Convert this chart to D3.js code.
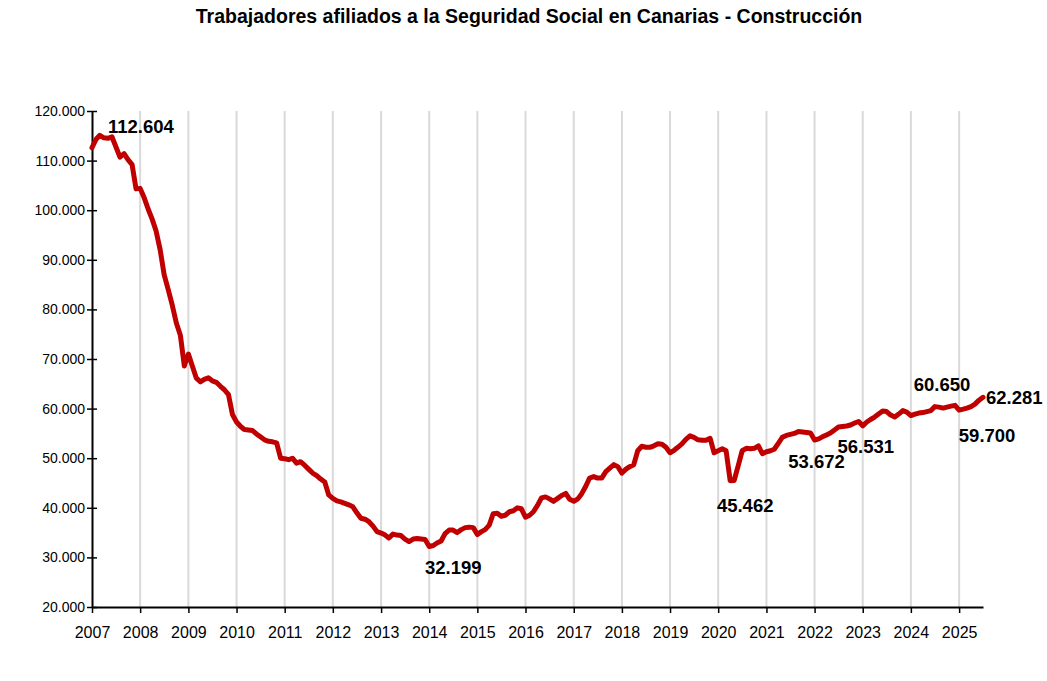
<!DOCTYPE html>
<html>
<head>
<meta charset="utf-8">
<script src="https://cdn.jsdelivr.net/npm/d3@7"></script>
<style>
  body { margin: 0; background: #fff; }
  svg { font-family: "Liberation Sans", Arial, sans-serif; }
  .title { font-size: 19.5px; font-weight: bold; }
  .tick text { fill: #000; }
  .lbl { font-size: 18.5px; font-weight: bold; fill: #000; }
</style>
</head>
<body>
<script>
var width = 1047,
    height = 681;

var title = "Trabajadores afiliados a la Seguridad Social en Canarias - Construcción";

// monthly series, Jan 2007 .. Jul 2025
var startYear = 2007;
var afiliados = [
  // 2007
  112604, 114300, 115100, 114600, 114500, 114800, 112800, 110700, 111400, 110200, 109200, 104300,
  // 2008
  104400, 102500, 100300, 98200, 95800, 92000, 87000, 84000, 80800, 77300, 74800, 68600,
  // 2009
  71000, 68500, 66200, 65400, 65900, 66200, 65600, 65300, 64500, 63800, 62800, 58800,
  // 2010
  57300, 56400, 55800, 55700, 55600, 54900, 54300, 53700, 53400, 53300, 53100, 50000,
  // 2011
  49900, 49700, 50000, 49000, 49300, 48600, 47800, 47000, 46500, 45800, 45200, 42600,
  // 2012
  41900, 41400, 41200, 40900, 40600, 40200, 39000, 37900, 37700, 37200, 36300, 35200,
  // 2013
  34900, 34500, 33900, 34700, 34500, 34400, 33700, 33200, 33700, 33800, 33700, 33600,
  // 2014
  32199, 32400, 32900, 33300, 34800, 35500, 35500, 35000, 35600, 36000, 36100, 36000,
  // 2015
  34600, 35200, 35600, 36500, 38800, 38900, 38300, 38500, 39200, 39400, 40000, 39800,
  // 2016
  38100, 38500, 39200, 40500, 42000, 42200, 41800, 41300, 41900, 42500, 42900, 41700,
  // 2017
  41300, 41800, 42800, 44300, 46000, 46300, 46000, 46000, 47300, 48000, 48700, 48300,
  // 2018
  47000, 47800, 48300, 48700, 51500, 52400, 52200, 52200, 52500, 52900, 52800, 52200,
  // 2019
  51100, 51600, 52200, 52900, 53800, 54500, 54200, 53700, 53600, 53600, 54000, 51100,
  // 2020
  51500, 51900, 51500, 45462, 45500, 48500, 51500, 52000, 51900, 52000, 52500, 50900,
  // 2021
  51300, 51500, 51800, 53000, 54200, 54600, 54800, 55000, 55400, 55300, 55200, 55100,
  // 2022
  53672, 53900, 54300, 54700, 55100, 55700, 56300, 56400, 56500, 56700, 57100, 57400,
  // 2023
  56531, 57300, 57800, 58300, 58900, 59500, 59400, 58700, 58300, 58900, 59600, 59300,
  // 2024
  58600, 58900, 59100, 59200, 59400, 59600, 60400, 60300, 60100, 60300, 60500, 60650,
  // 2025
  59700, 59900, 60100, 60400, 60900, 61700, 62281
];

var yearTicks = d3.range(2007, 2026);
var valueTicks = d3.range(20000, 120001, 10000);

// labelled points: month index and label offset
var labelled = [
  {i: 0,   dx: 16,  dy: -15, anchor: "start"},
  {i: 84,  dx: 24,  dy: 28,  anchor: "middle"},
  {i: 159, dx: 15,  dy: 31,  anchor: "middle"},
  {i: 180, dx: 2,   dy: 28,  anchor: "middle"},
  {i: 192, dx: 3,   dy: 27,  anchor: "middle"},
  {i: 215, dx: -13, dy: -14, anchor: "middle"},
  {i: 216, dx: 28,  dy: 32,  anchor: "middle"},
  {i: 222, dx: 3,   dy: 7,   anchor: "start"}
];

var data = afiliados.map(function(v, i) {
  return {date: new Date(startYear + Math.floor(i / 12), i % 12, 1), value: v};
});

var locale = d3.formatLocale({decimal: ",", thousands: ".", grouping: [3], currency: ["", "€"]});
var fmt = locale.format(",.0f");

var plotLeft = 92, plotRight = 983, plotTop = 111, plotBottom = 607;

var x = d3.scaleTime()
    .domain([data[0].date, data[data.length - 1].date])
    .range([plotLeft, plotRight]);

var y = d3.scaleLinear()
    .domain([20000, 120000])
    .range([plotBottom, plotTop]);

var svg = d3.select("body").append("svg")
    .attr("width", width)
    .attr("height", height);

svg.append("text")
    .attr("class", "title")
    .attr("x", 529)
    .attr("y", 23)
    .attr("text-anchor", "middle")
    .text(title);

// vertical year gridlines
svg.append("g")
  .selectAll("line")
  .data(yearTicks.slice(1))
  .enter().append("line")
    .attr("x1", function(d) { return x(new Date(d, 0, 1)); })
    .attr("x2", function(d) { return x(new Date(d, 0, 1)); })
    .attr("y1", plotTop)
    .attr("y2", plotBottom)
    .attr("stroke", "#d9d9d9")
    .attr("stroke-width", 2);

// x axis
var xAxis = svg.append("g")
    .attr("transform", "translate(0," + plotBottom + ")")
    .call(d3.axisBottom(x)
      .tickValues(yearTicks.map(function(d) { return new Date(d, 0, 1); }))
      .tickFormat(d3.timeFormat("%Y"))
      .tickSizeInner(6)
      .tickSizeOuter(0)
      .tickPadding(14));
xAxis.select(".domain").attr("stroke", "#000").attr("stroke-width", 2);
xAxis.selectAll(".tick line").attr("stroke", "#000").attr("stroke-width", 1.5);
xAxis.selectAll(".tick text")
    .style("font-size", "16px")
    .style("font-family", "'Liberation Sans', Arial, sans-serif");

// y axis
var yAxis = svg.append("g")
    .attr("transform", "translate(" + plotLeft + ",0)")
    .call(d3.axisLeft(y)
      .tickValues(valueTicks)
      .tickFormat(fmt)
      .tickSizeInner(5)
      .tickSizeOuter(0)
      .tickPadding(7));
yAxis.select(".domain").attr("stroke", "#000").attr("stroke-width", 2);
yAxis.selectAll(".tick line")
    .attr("x1", -5)
    .attr("x2", 5)
    .attr("stroke", "#000")
    .attr("stroke-width", 1.5);
yAxis.selectAll(".tick text")
    .attr("x", -7)
    .style("font-size", "14px")
    .style("font-family", "'Liberation Sans', Arial, sans-serif");

// the series
var line = d3.line()
    .x(function(d) { return x(d.date); })
    .y(function(d) { return y(d.value); });

svg.append("path")
    .datum(data)
    .attr("d", line)
    .attr("fill", "none")
    .attr("stroke", "#c00000")
    .attr("stroke-width", 5)
    .attr("stroke-linejoin", "round")
    .attr("stroke-linecap", "round");

// data labels
svg.append("g")
  .selectAll("text")
  .data(labelled)
  .enter().append("text")
    .attr("class", "lbl")
    .attr("x", function(d) { return x(data[d.i].date) + d.dx; })
    .attr("y", function(d) { return y(data[d.i].value) + d.dy; })
    .attr("text-anchor", function(d) { return d.anchor; })
    .text(function(d) { return fmt(data[d.i].value); });
</script>
</body>
</html>
